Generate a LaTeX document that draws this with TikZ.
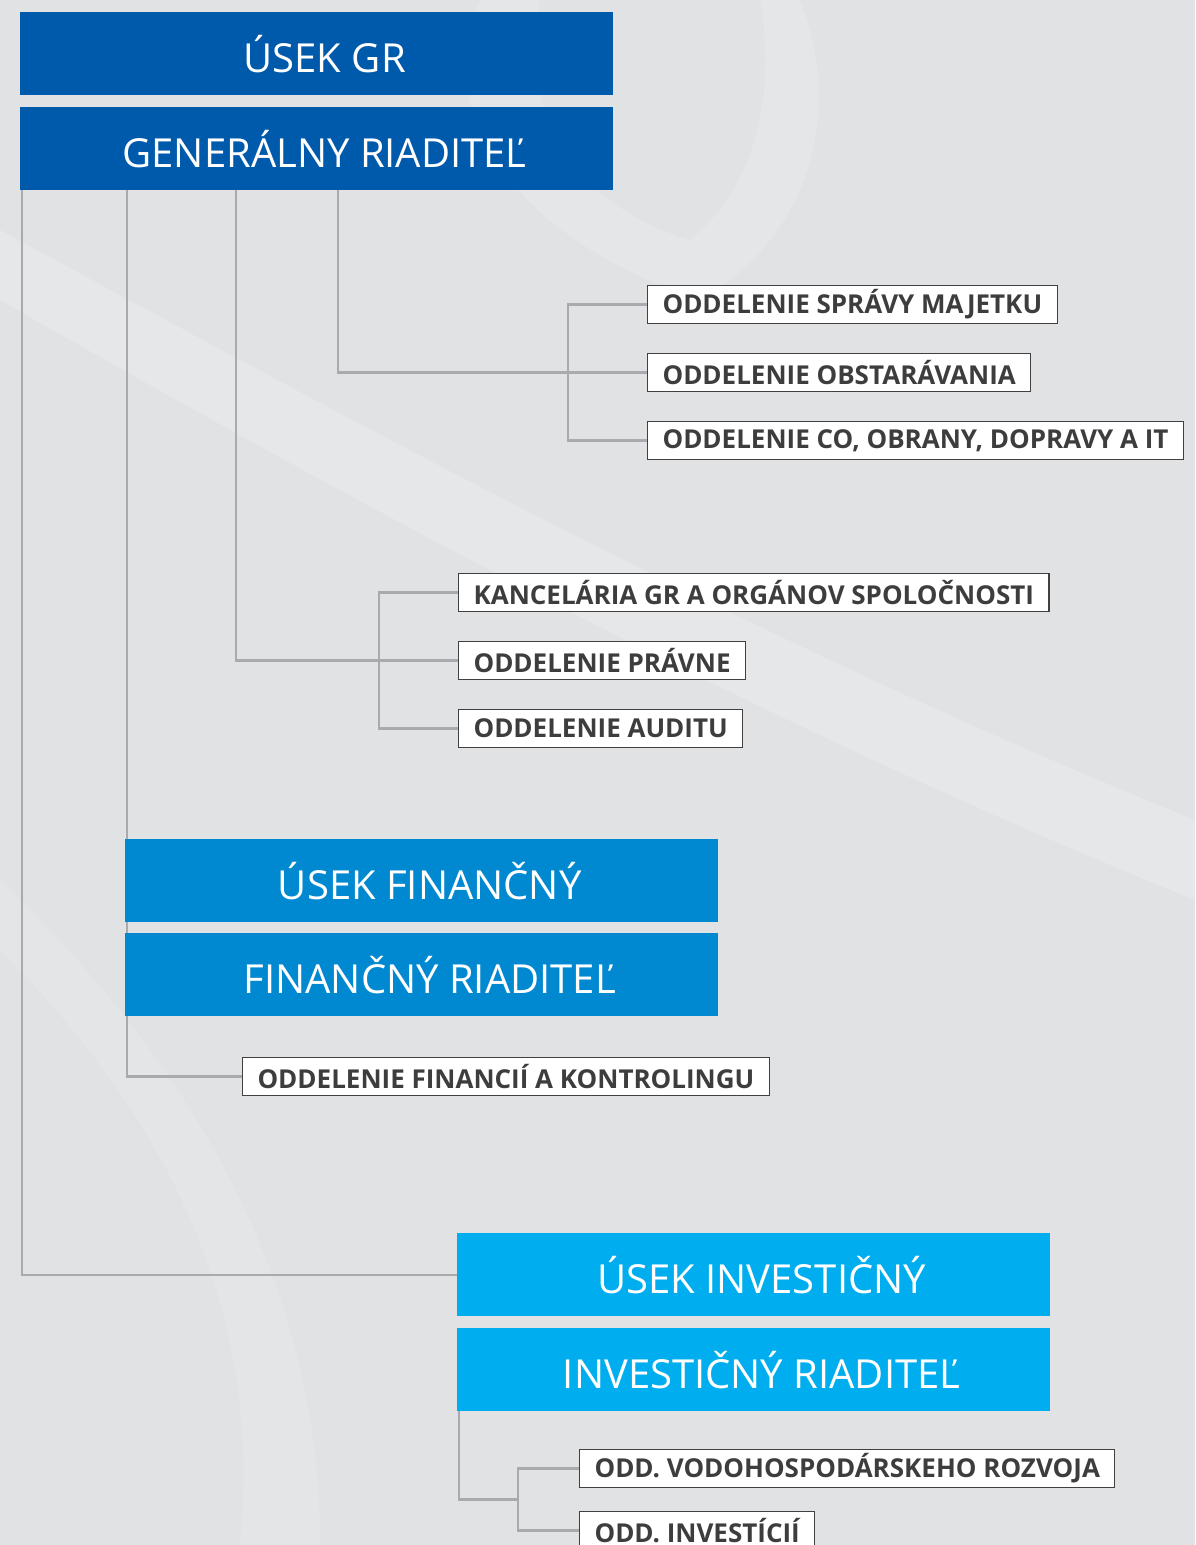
\documentclass[tikz,border=0pt]{standalone}
\usepackage{fontspec}
\setmainfont{Open Sans}
\newfontfamily\bigfam{Open Sans}
\newfontfamily\smallfam{Open Sans}
\usetikzlibrary{calc}
\definecolor{bgc}{HTML}{E1E2E4}
\definecolor{c1}{HTML}{005AAB}
\definecolor{c2}{HTML}{0089D0}
\definecolor{c3}{HTML}{00AEEF}
\definecolor{linegray}{HTML}{A8AAAD}
\definecolor{txtgray}{HTML}{3D3D3D}
\pgfdeclarelayer{back}
\pgfdeclarelayer{lines}
\pgfsetlayers{back,lines,main}
\begin{document}
\begin{tikzpicture}[x=1pt,y=-1pt,
  bigbox/.style={fill=#1, text=white, minimum width=593, minimum height=83, inner sep=0pt, anchor=north west, font=\bigfam\fontsize{40}{44}\selectfont, execute at begin node={\hspace*{16pt}}},
  subbox/.style={draw=black!75, line width=1.1pt, fill=white, text=txtgray, minimum height=38, inner xsep=15, inner ysep=0, anchor=north west, font=\smallfam\bfseries\fontsize{26}{30}\selectfont},
  conn/.style={draw=linegray, line width=2.4pt}
]
\useasboundingbox (0,0) rectangle (1195,1545);
\begin{pgfonlayer}{back}
  \fill[bgc] (0,0) rectangle (1195,1545);
  \fill[white, opacity=0.18] (0,230) .. controls (350,420) and (750,640) .. (1195,820) -- (1195,900) .. controls (750,720) and (350,500) .. (0,300) -- cycle;
  \fill[white, opacity=0.15] (480,0) .. controls (430,120) and (520,240) .. (700,300) .. controls (820,230) and (840,100) .. (800,0) -- (760,0) .. controls (780,120) and (740,200) .. (690,240) .. controls (560,200) and (520,100) .. (540,0) -- cycle;
  \fill[white, opacity=0.12] (0,950) .. controls (200,1150) and (260,1350) .. (240,1545) -- (320,1545) .. controls (320,1350) and (250,1120) .. (0,880) -- cycle;
\end{pgfonlayer}

% top
\node[bigbox=c1] (usekgr) at (20,12) {ÚSEK GR};
\node[bigbox=c1] (gr) at (20,107) {GENERÁLNY RIADITEĽ};

% group 1
\node[subbox] (sprava) at (647,285) {ODDELENIE SPRÁVY MAJETKU};
\node[subbox] (obst) at (647,353) {ODDELENIE OBSTARÁVANIA};
\node[subbox] (co) at (647,421) {ODDELENIE CO, OBRANY, DOPRAVY A IT};

% group 2
\node[subbox] (kanc) at (458,573) {KANCELÁRIA GR A ORGÁNOV SPOLOČNOSTI};
\node[subbox] (pravne) at (458,641) {ODDELENIE PRÁVNE};
\node[subbox] (audit) at (458,709) {ODDELENIE AUDITU};

% finance
\node[bigbox=c2] (usekfin) at (125,839) {ÚSEK FINANČNÝ};
\node[bigbox=c2] (fr) at (125,933) {FINANČNÝ RIADITEĽ};
\node[subbox] (fink) at (242,1057) {ODDELENIE FINANCIÍ A KONTROLINGU};

% investment
\node[bigbox=c3] (usekinv) at (457,1233) {ÚSEK INVESTIČNÝ};
\node[bigbox=c3] (ir) at (457,1328) {INVESTIČNÝ RIADITEĽ};
\node[subbox] (vodo) at (579,1449) {ODD. VODOHOSPODÁRSKEHO ROZVOJA};
\node[subbox] (inv) at (579,1511) {ODD. INVESTÍCIÍ};

\begin{pgfonlayer}{lines}
  \draw[conn] ([xshift=2]gr.south west) |- (usekinv.west);
  \draw[conn] ([xshift=107]gr.south west) |- (fink.west);
  \draw[conn] ([xshift=216]gr.south west) |- (pravne.west);
  \draw[conn] ([xshift=318]gr.south west) |- (obst.west);
  \draw[conn] (sprava.west) -- ++(-79,0) |- (co.west);
  \draw[conn] (kanc.west) -- ++(-79,0) |- (audit.west);
  \draw[conn] (vodo.west) -- ++(-61,0) |- (inv.west);
  \draw[conn] ([xshift=2]ir.south west) |- ($(vodo.west)!0.5!(inv.west)+(-61,0)$);
\end{pgfonlayer}
\end{tikzpicture}
\end{document}
